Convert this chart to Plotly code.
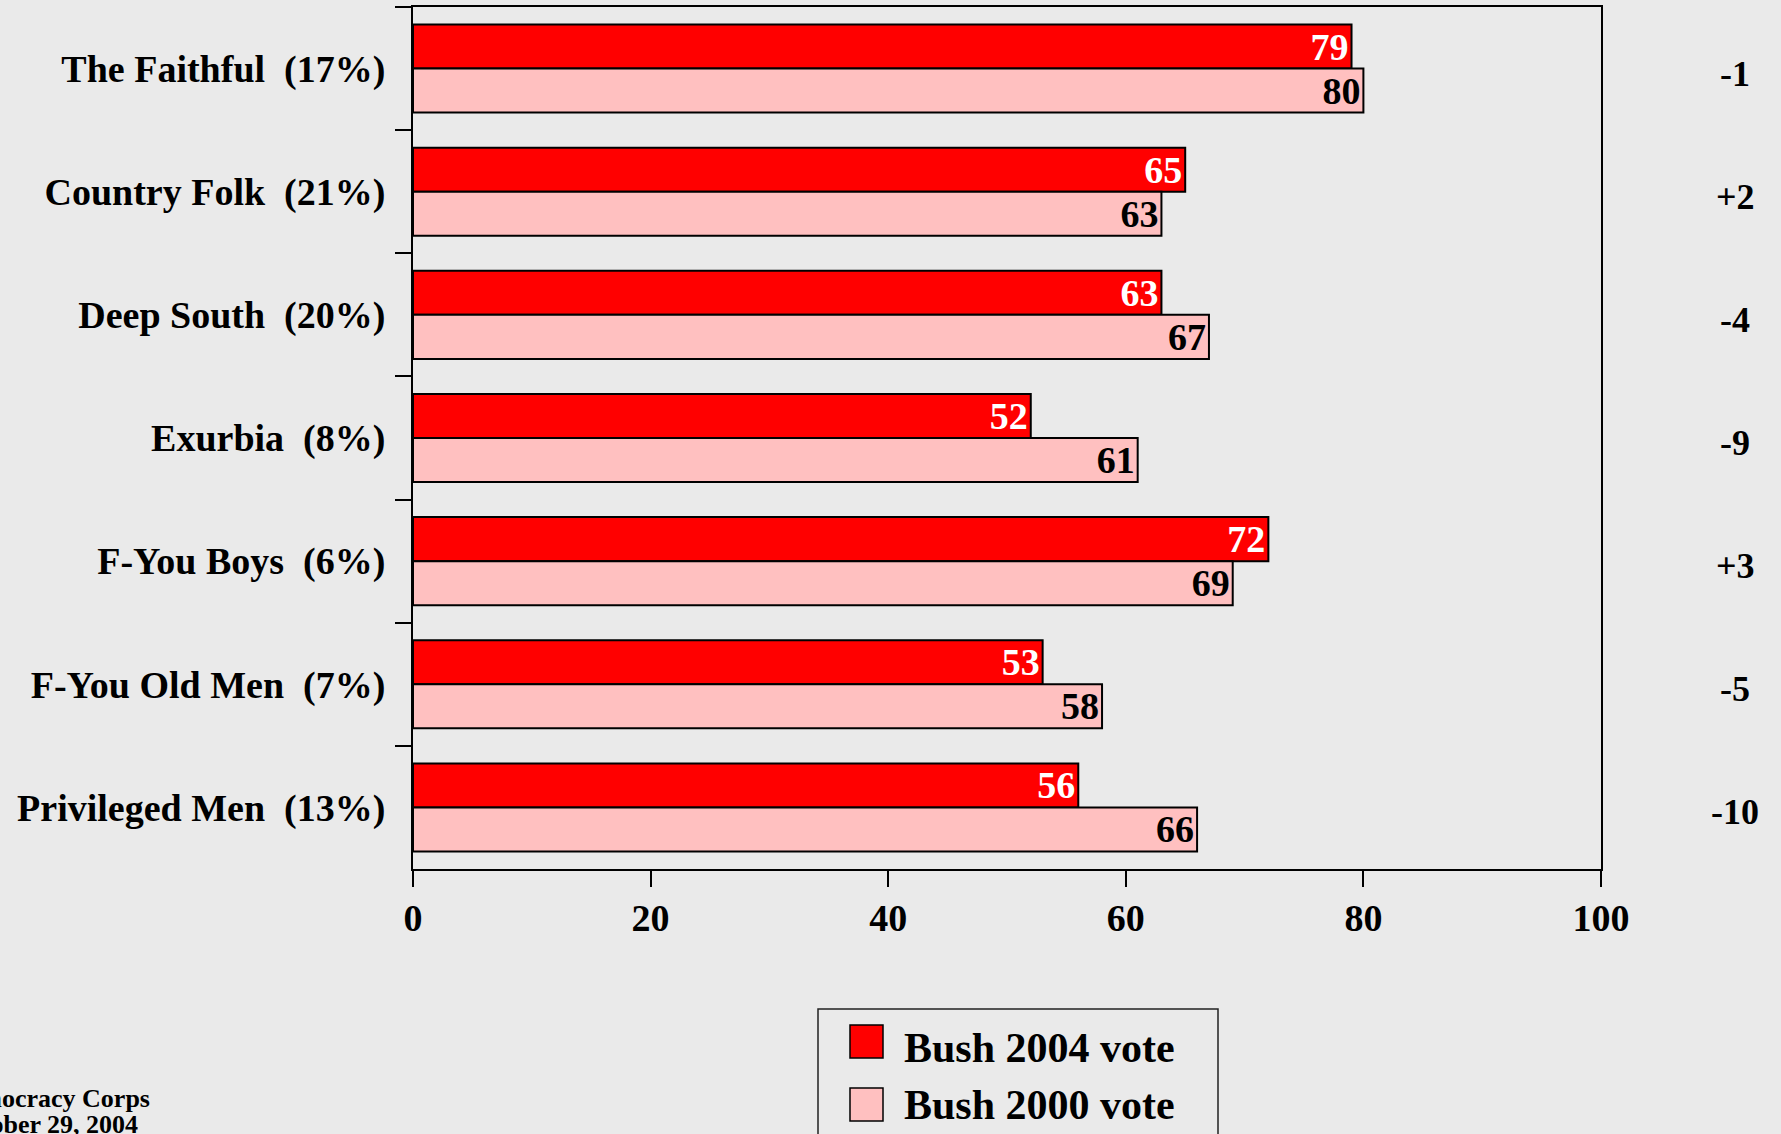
import plotly.graph_objects as go

NBSP = "\u00a0"
categories = ["The Faithful", "Country Folk", "Deep South", "Exurbia",
              "F-You Boys", "F-You Old Men", "Privileged Men"]
shares = ["17%", "21%", "20%", "8%", "6%", "7%", "13%"]
bush_2004 = [79, 65, 63, 52, 72, 53, 56]
bush_2000 = [80, 63, 67, 61, 69, 58, 66]
diff_labels = ["-1", "+2", "-4", "-9", "+3", "-5", "-10"]
x_ticks = [0, 20, 40, 60, 80, 100]
series_names = ["Bush 2004 vote", "Bush 2000 vote"]
footnotes = ["Democracy Corps", "October 29, 2004"]

labels = [f"{c}{NBSP}{NBSP}({s})" for c, s in zip(categories, shares)]

FONT = "Liberation Serif"
RED = "#ff0000"
PINK = "#ffc0c0"
BG = "#eaeaea"

W, H = 1781, 1134
L, R, T, B = 413, 180, 7, 265
PW, PH = W - L - R, H - T - B


def px(xp):
    return (xp - L) / PW


def py(yp):
    return (H - B - yp) / PH


fig = go.Figure()
fig.add_trace(go.Bar(
    y=labels, x=bush_2004, orientation="h", name=series_names[0],
    marker=dict(color=RED, line=dict(color="black", width=2)),
    text=bush_2004, textposition="inside", insidetextanchor="end",
    textangle=0, constraintext="none",
    textfont=dict(family=FONT, size=38, color="white", weight="bold"),
    showlegend=False,
))
fig.add_trace(go.Bar(
    y=labels, x=bush_2000, orientation="h", name=series_names[1],
    marker=dict(color=PINK, line=dict(color="black", width=2)),
    text=bush_2000, textposition="inside", insidetextanchor="end",
    textangle=0, constraintext="none",
    textfont=dict(family=FONT, size=38, color="black", weight="bold"),
    showlegend=False,
))

annotations = []
for lab, d in zip(labels, diff_labels):
    annotations.append(dict(
        x=px(1735), xref="paper", y=lab, yref="y", text=d, showarrow=False,
        xanchor="center", yanchor="middle", yshift=-5,
        font=dict(family=FONT, size=36, color="black", weight="bold"),
    ))

# legend drawn manually (large swatches)
shapes = [
    dict(type="rect", xref="paper", yref="paper",
         x0=px(818), x1=px(1218), y0=py(1009), y1=py(1160),
         line=dict(color="#222222", width=1.5), fillcolor=BG, layer="above"),
    dict(type="rect", xref="paper", yref="paper",
         x0=px(850), x1=px(883), y0=py(1025), y1=py(1058),
         line=dict(color="black", width=1.5), fillcolor=RED, layer="above"),
    dict(type="rect", xref="paper", yref="paper",
         x0=px(850), x1=px(883), y0=py(1088), y1=py(1121),
         line=dict(color="black", width=1.5), fillcolor=PINK, layer="above"),
]
for name, yc in zip(series_names, [1048, 1105]):
    annotations.append(dict(
        x=px(902), xref="paper", y=py(yc), yref="paper", text=name,
        showarrow=False, xanchor="left", yanchor="middle",
        font=dict(family=FONT, size=42, color="black", weight="bold"),
    ))
for t, yc in zip(footnotes, [1098, 1124]):
    annotations.append(dict(
        x=px(-52), xref="paper", y=py(yc), yref="paper", text=t,
        showarrow=False, xanchor="left", yanchor="middle",
        font=dict(family=FONT, size=26, color="black", weight="bold"),
    ))

fig.update_layout(
    width=W, height=H,
    margin=dict(l=L, r=R, t=T, b=B, autoexpand=False),
    paper_bgcolor=BG, plot_bgcolor=BG,
    barmode="group", bargap=0.285, bargroupgap=0,
    showlegend=False,
    shapes=shapes, annotations=annotations,
    xaxis=dict(
        range=[0, 100], tickvals=x_ticks, ticks="outside", ticklen=16,
        tickwidth=2, tickcolor="black", showline=True, linewidth=2,
        linecolor="black", mirror=True, showgrid=False, zeroline=False,
        tickfont=dict(family=FONT, size=38, color="black", weight="bold"),
        ticklabelstandoff=-2,
    ),
    yaxis=dict(
        autorange="reversed", tickson="boundaries", ticks="outside",
        ticklen=16, tickwidth=2, tickcolor="black", showline=True,
        linewidth=2, linecolor="black", mirror=True, showgrid=False,
        zeroline=False, ticklabelstandoff=18,
        tickfont=dict(family=FONT, size=38, color="black", weight="bold"),
    ),
)

fig.write_html(
    "out.html",
    config={"displayModeBar": False},
    post_script="document.body.style.margin='0';"
                "document.body.style.background='" + BG + "';",
)
